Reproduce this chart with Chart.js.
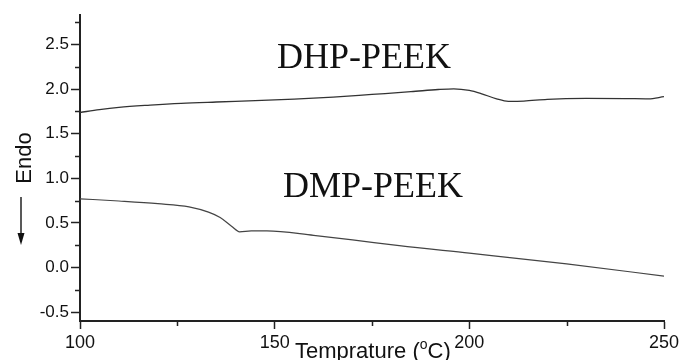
<!DOCTYPE html>
<html>
<head>
<meta charset="utf-8">
<script src="https://cdn.jsdelivr.net/npm/chart.js@4/dist/chart.umd.min.js"></script>
<style>
    html, body { margin: 0; padding: 0; background: #fff; }
    #wrap { width: 683px; height: 360px; position: relative; }
</style>
</head>
<body>
<div id="wrap"><canvas id="dsc"></canvas></div>
<script>
// DSC curves — DHP-PEEK / DMP-PEEK

// ---- data ----
const dhpTemps  = [100, 105, 110, 118, 126, 135, 145, 155, 165, 175, 185, 192, 196, 200, 203, 207, 210, 214, 220, 230, 240, 246, 250];
const dhpValues = [1.737, 1.77, 1.795, 1.82, 1.84, 1.855, 1.87, 1.887, 1.91, 1.94, 1.97, 1.995, 2.003, 1.985, 1.95, 1.89, 1.862, 1.865, 1.885, 1.895, 1.893, 1.89, 1.915];

const dmpTemps  = [100, 110, 120, 128, 133, 136, 139, 141, 144, 148, 160, 170, 182, 200, 225, 250];
const dmpValues = [0.77, 0.745, 0.715, 0.68, 0.62, 0.56, 0.46, 0.40, 0.41, 0.41, 0.36, 0.31, 0.244, 0.16, 0.04, -0.097];

const xMajor = [100, 150, 200, 250];
const xMinor = [125, 175, 225];
const yMajor = [-0.5, 0.0, 0.5, 1.0, 1.5, 2.0, 2.5];
const yMinor = [-0.25, 0.25, 0.75, 1.25, 1.75, 2.25, 2.75];

const seriesLabels = ["DHP-PEEK", "DMP-PEEK"];

const toPoints = (xs, ys) => xs.map((x, i) => ({ x: x, y: ys[i] }));

// ---- extra drawing: minor ticks, titles, curve labels ----
const decorations = {
    id: "decorations",
    afterDraw(chart) {
        const c = chart.ctx;
        const xs = chart.scales.x;
        const ys = chart.scales.y;
        const area = chart.chartArea;

        c.save();
        c.strokeStyle = "#222";
        c.lineWidth = 1.5;
        c.beginPath();
        xMinor.forEach(v => {
            const px = Math.round(xs.getPixelForValue(v)) + 0.5;
            c.moveTo(px, area.bottom);
            c.lineTo(px, area.bottom + 5);
        });
        yMinor.forEach(v => {
            const py = Math.round(ys.getPixelForValue(v)) + 0.5;
            c.moveTo(area.left, py);
            c.lineTo(area.left - 5, py);
        });
        c.stroke();

        // x title with superscript o
        c.fillStyle = "#111";
        c.textBaseline = "alphabetic";
        c.textAlign = "left";
        c.font = "22px Arial, 'Liberation Sans', sans-serif";
        let tx = 295;
        const ty = 358;
        const a = "Temprature (";
        c.fillText(a, tx, ty);
        tx += c.measureText(a).width;
        c.font = "14px Arial, 'Liberation Sans', sans-serif";
        c.fillText("o", tx, ty - 9);
        tx += c.measureText("o").width;
        c.font = "22px Arial, 'Liberation Sans', sans-serif";
        c.fillText("C)", tx, ty);

        // y title "Endo" + arrow
        c.save();
        c.translate(31, 158);
        c.rotate(-Math.PI / 2);
        c.textAlign = "center";
        c.font = "22px Arial, 'Liberation Sans', sans-serif";
        c.fillText("Endo", 0, 0);
        c.restore();

        c.beginPath();
        c.lineWidth = 1.5;
        c.moveTo(21, 197);
        c.lineTo(21, 236);
        c.stroke();
        c.beginPath();
        c.moveTo(17.5, 233);
        c.lineTo(24.5, 233);
        c.lineTo(21, 245);
        c.closePath();
        c.fill();

        // curve labels
        c.font = "36px 'Times New Roman', 'Liberation Serif', serif";
        c.textAlign = "center";
        c.fillText(seriesLabels[0], 364, 68);
        c.fillText(seriesLabels[1], 373, 197);
        c.restore();
    }
};

new Chart(document.getElementById("dsc"), {
    type: "line",
    data: {
        datasets: [
            {
                label: seriesLabels[0],
                data: toPoints(dhpTemps, dhpValues),
                borderColor: "#333",
                borderWidth: 1.3,
                pointRadius: 0,
                cubicInterpolationMode: "monotone"
            },
            {
                label: seriesLabels[1],
                data: toPoints(dmpTemps, dmpValues),
                borderColor: "#444",
                borderWidth: 1.2,
                pointRadius: 0,
                cubicInterpolationMode: "monotone"
            }
        ]
    },
    options: {
        responsive: true,
        maintainAspectRatio: false,
        animation: false,
        layout: { padding: { top: 15, right: 19, left: 0, bottom: 0 } },
        plugins: {
            legend: { display: false },
            tooltip: { enabled: false }
        },
        scales: {
            x: {
                type: "linear",
                min: 100,
                max: 250,
                afterBuildTicks: s => { s.ticks = xMajor.map(v => ({ value: v })); },
                afterFit: s => { s.height = 39; },
                grid: {
                    drawOnChartArea: false,
                    drawTicks: true,
                    tickLength: 8,
                    tickColor: "#222",
                    tickWidth: 1.5
                },
                border: { display: true, color: "#222", width: 2 },
                ticks: {
                    color: "#111",
                    padding: 3,
                    maxRotation: 0,
                    font: { family: "Arial, 'Liberation Sans', sans-serif", size: 18 },
                    callback: v => String(v)
                }
            },
            y: {
                type: "linear",
                min: -0.6,
                max: 2.83,
                afterBuildTicks: s => { s.ticks = yMajor.map(v => ({ value: v })); },
                afterFit: s => { s.width = 80; },
                grid: {
                    drawOnChartArea: false,
                    drawTicks: true,
                    tickLength: 9,
                    tickColor: "#222",
                    tickWidth: 1.5
                },
                border: { display: true, color: "#222", width: 2 },
                ticks: {
                    color: "#111",
                    padding: 2,
                    font: { family: "Arial, 'Liberation Sans', sans-serif", size: 17 },
                    callback: v => Number(v).toFixed(1)
                }
            }
        }
    },
    plugins: [decorations]
});
</script>
</body>
</html>
